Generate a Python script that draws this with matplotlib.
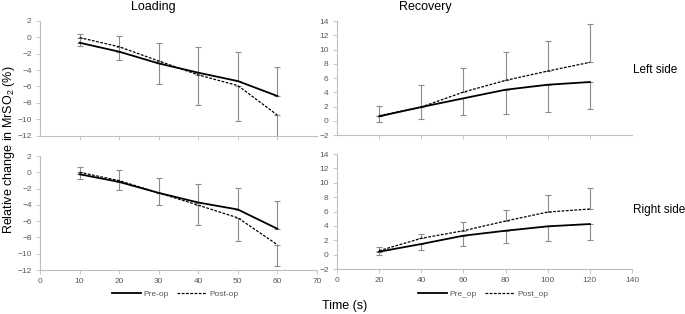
import numpy as np
import matplotlib
matplotlib.use('Agg')
import matplotlib.pyplot as plt

plt.rcParams['font.family'] = ['Liberation Sans', 'DejaVu Sans']
plt.rcParams['mathtext.fontset'] = 'custom'
plt.rcParams['mathtext.rm'] = 'Liberation Sans'
plt.rcParams['mathtext.it'] = 'Liberation Sans:italic'

# loading phase (s)
t_load = [10, 20, 30, 40, 50, 60]
# recovery phase (s)
t_rec = [20, 40, 60, 80, 100, 120]

# left side, loading
ll_pre = [-0.68, -1.77, -3.2, -4.33, -5.35, -7.17]
ll_post = [-0.05, -1.17, -2.9, -4.6, -5.9, -9.5]
ll_pre_err = [1.02, 1.9, 2.44, 3.08, 3.58, 3.57]    # upward
ll_post_err = [1.08, 1.66, 2.81, 3.7, 4.3, 3.2]     # downward

# left side, recovery
lr_pre = [0.62, 1.93, 3.15, 4.36, 5.06, 5.44]
lr_post = [0.71, 1.93, 4.03, 5.67, 6.98, 8.2]
lr_post_err = [1.31, 3.09, 3.42, 3.98, 4.26, 5.38]  # upward
lr_pre_err = [0.8, 1.73, 2.3, 3.41, 3.88, 3.74]     # downward

# right side, loading
rl_pre = [-0.24, -1.18, -2.53, -3.71, -4.57, -6.94]
rl_post = [0.0, -1.02, -2.53, -4.04, -5.59, -8.9]
rl_pre_err = [0.85, 1.51, 1.84, 2.32, 2.69, 3.43]
rl_post_err = [0.82, 1.1, 1.51, 2.49, 2.82, 2.65]

# right side, recovery
rr_pre = [0.41, 1.48, 2.64, 3.33, 3.94, 4.26]
rr_post = [0.55, 2.27, 3.33, 4.68, 5.93, 6.35]
rr_post_err = [0.55, 0.6, 1.21, 1.52, 2.32, 2.87]
rr_pre_err = [0.46, 0.84, 1.49, 1.76, 2.0, 2.23]

err_col = '#8c8c8c'
spine_col = '#bfbfbf'
tick_col = '#595959'


def style(ax, xlim, xticks, ylim, yticks, show_xlabels):
    ax.set_xlim(*xlim)
    ax.set_ylim(*ylim)
    ax.set_xticks(xticks)
    ax.set_yticks(yticks)
    for s in ['top', 'right']:
        ax.spines[s].set_visible(False)
    for s in ['left', 'bottom']:
        ax.spines[s].set_color(spine_col)
        ax.spines[s].set_linewidth(0.8)
    ax.tick_params(length=3, width=0.6, color=spine_col, labelsize=6,
                   labelcolor=tick_col, pad=3)
    if not show_xlabels:
        ax.tick_params(axis='x', labelbottom=False)
    ax.patch.set_visible(False)


def panel(ax, t, pre, post, up, up_err, down, down_err):
    ax.errorbar(t, up, yerr=[np.zeros(len(t)), up_err], fmt='none',
                ecolor=err_col, elinewidth=0.8, capsize=2, capthick=0.8)
    ax.errorbar(t, down, yerr=[down_err, np.zeros(len(t))], fmt='none',
                ecolor=err_col, elinewidth=0.8, capsize=2, capthick=0.8)
    l1, = ax.plot(t, pre, color='black', lw=1.3, solid_joinstyle='round')
    l2, = ax.plot(t, post, color='black', lw=0.9, ls=(0, (2.2, 1.2)))
    return l1, l2


fig = plt.figure(figsize=(6.85, 3.14), dpi=100)

ax1 = fig.add_axes([0.0584, 0.5678, 0.4044, 0.3662])
ax2 = fig.add_axes([0.492, 0.570, 0.4307, 0.363])
ax3 = fig.add_axes([0.0584, 0.1401, 0.4044, 0.363])
ax4 = fig.add_axes([0.492, 0.1433, 0.4307, 0.366])

panel(ax1, t_load, ll_pre, ll_post, ll_pre, ll_pre_err, ll_post, ll_post_err)
panel(ax2, t_rec, lr_pre, lr_post, lr_post, lr_post_err, lr_pre, lr_pre_err)
h3 = panel(ax3, t_load, rl_pre, rl_post, rl_pre, rl_pre_err, rl_post, rl_post_err)
h4 = panel(ax4, t_rec, rr_pre, rr_post, rr_post, rr_post_err, rr_pre, rr_pre_err)

style(ax1, (0, 70), [10, 20, 30, 40, 50, 60], (-12, 2), range(-12, 3, 2), False)
style(ax2, (0, 140), [20, 40, 60, 80, 100, 120], (-2, 14), range(-2, 15, 2), False)
style(ax3, (0, 70), range(0, 71, 10), (-12, 2), range(-12, 3, 2), True)
style(ax4, (0, 140), range(0, 141, 20), (-2, 14), range(-2, 15, 2), True)

fig.legend(h3, ['Pre-op', 'Post-op'], loc='center', bbox_to_anchor=(175 / 685, 1 - 294 / 314),
           ncol=2, frameon=False, fontsize=6, handlelength=3.5, columnspacing=1.0,
           handletextpad=0.3, labelcolor=tick_col)
fig.legend(h4, ['Pre_op', 'Post_op'], loc='center', bbox_to_anchor=(483 / 685, 1 - 294 / 314),
           ncol=2, frameon=False, fontsize=6, handlelength=3.5, columnspacing=1.0,
           handletextpad=0.3, labelcolor=tick_col)

fig.text(153 / 685, 1 - 7 / 314, 'Loading', ha='center', va='center', fontsize=9)
fig.text(425 / 685, 1 - 7 / 314, 'Recovery', ha='center', va='center', fontsize=9)
fig.text(633 / 685, 1 - 70 / 314, 'Left side', ha='left', va='center', fontsize=8.5)
fig.text(633 / 685, 1 - 210 / 314, 'Right side', ha='left', va='center', fontsize=8.5)
fig.text(345 / 685, 1 - 306 / 314, 'Time (s)', ha='center', va='center', fontsize=9)
fig.text(9 / 685, 1 - 150 / 314, 'Relative change in MrSO$_2$ (%)', ha='center', va='center',
         rotation=90, fontsize=9)

fig.savefig('out.png', dpi=100)
